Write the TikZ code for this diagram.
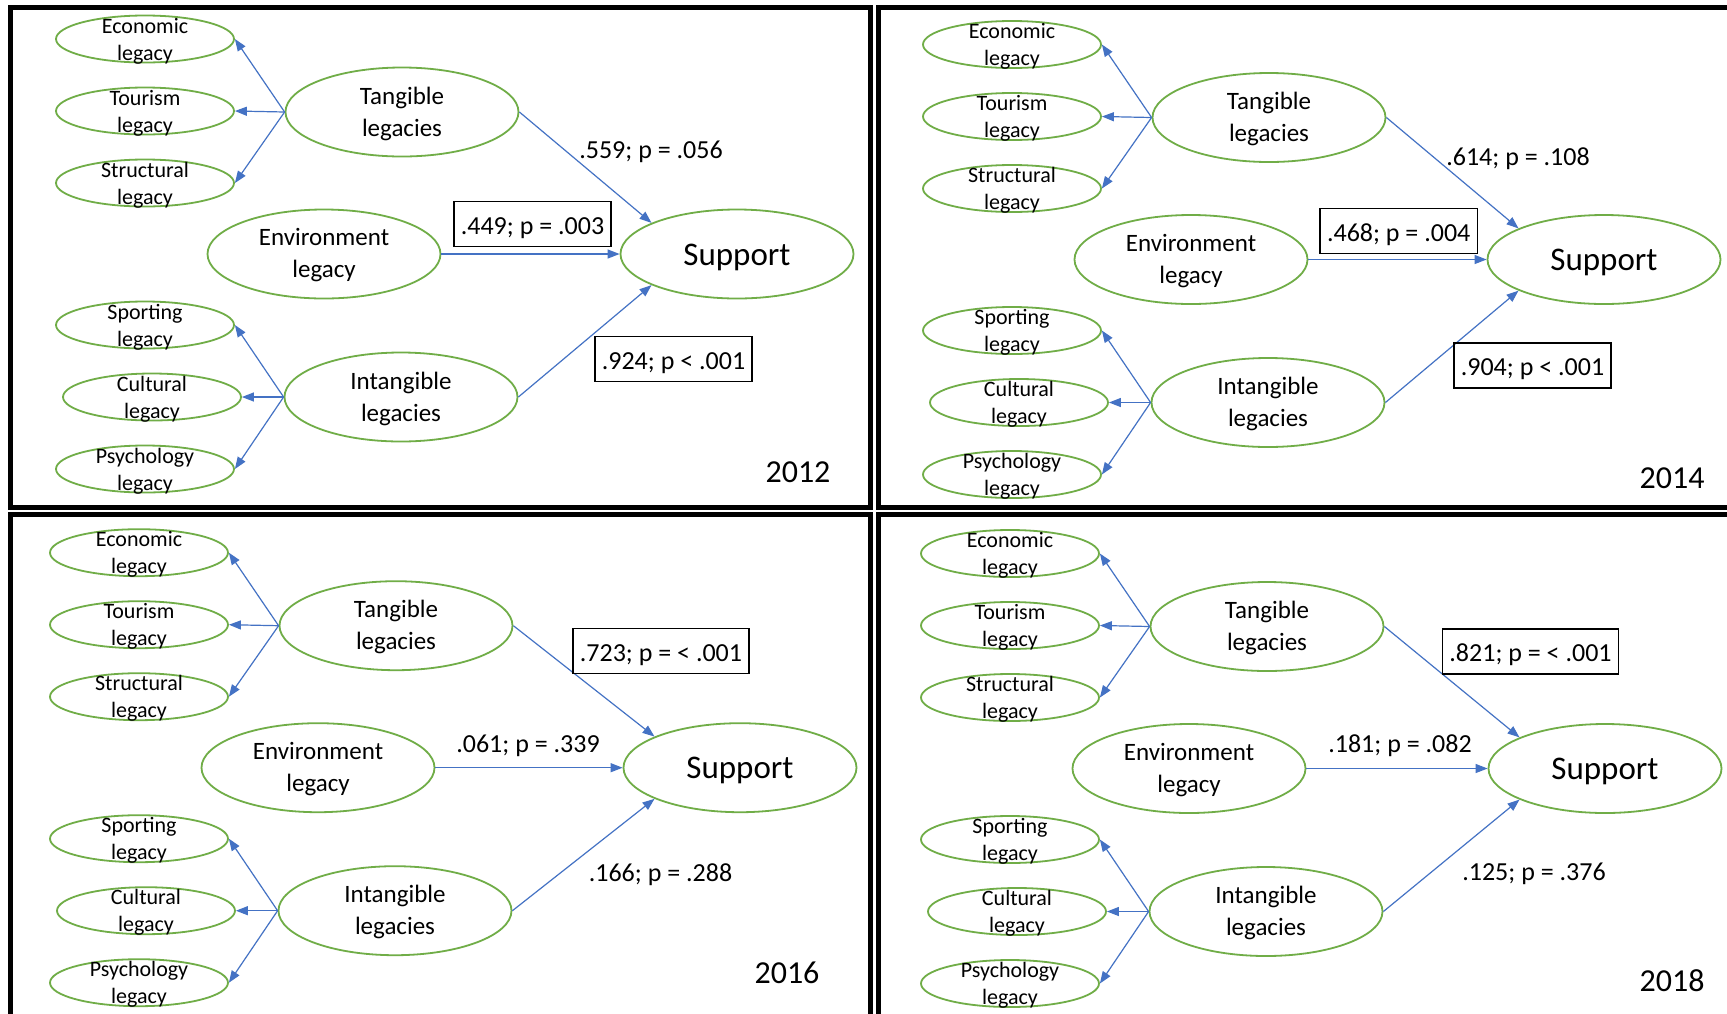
\documentclass[tikz,border=0pt]{standalone}
\usepackage{fontspec}
\setmainfont{Carlito}
\usetikzlibrary{shapes.geometric,arrows.meta}
\definecolor{ellgreen}{HTML}{70AD47}
\definecolor{arrblue}{HTML}{4472C4}
\tikzset{
 sm/.style={ellipse, draw=ellgreen, line width=1.8pt, minimum width=178pt, minimum height=47pt, inner sep=0pt},
 big/.style={ellipse, draw=ellgreen, line width=1.8pt, minimum width=233pt, minimum height=89pt, inner sep=0pt},
 smt/.style={align=center, font=\fontsize{22}{27}\selectfont, inner sep=0pt, yshift=-2pt},
 bigt/.style={align=center, font=\fontsize{25}{32}\selectfont, inner sep=0pt, yshift=-1.5pt},
 supt/.style={font=\fontsize{33}{40}\selectfont, inner sep=0pt, yshift=-3pt},
 arr/.style={draw=arrblue, line width=1.2pt, -{Triangle[length=12pt,width=9pt]}},
 lab/.style={font=\fontsize{26}{31}\selectfont, inner sep=0pt, yshift=-2.5pt},
 boxlab/.style={draw=black, line width=1.6pt, font=\fontsize{26}{31}\selectfont, inner xsep=7pt, inner ysep=0pt, minimum height=45pt, text height=22pt, text depth=2pt},
 yr/.style={font=\fontsize{32}{38}\selectfont, inner sep=0pt, yshift=-1pt},
 frame/.style={draw=black, line width=5pt},
}
\newcommand{\legpanel}[4]{%
\begin{scope}[shift={(#2,#3)}]
 \node[sm] (#1eco) at (145,39) {};
 \node[smt] (#1ecot) at (#1eco) {Economic\\legacy};
 \node[sm] (#1tou) at (145,111) {};
 \node[smt] (#1tout) at (#1tou) {Tourism\\legacy};
 \node[sm] (#1str) at (145,183) {};
 \node[smt] (#1strt) at (#1str) {Structural\\legacy};
 \node[sm] (#1spo) at (145,325) {};
 \node[smt] (#1spot) at (#1spo) {Sporting\\legacy};
 \node[sm] (#1cul) at (152,397) {};
 \node[smt] (#1cult) at (#1cul) {Cultural\\legacy};
 \node[sm] (#1psy) at (145,469) {};
 \node[smt] (#1psyt) at (#1psy) {Psychology\\legacy};
 \node[big] (#1tan) at (402,112) {};
 \node[bigt] (#1tant) at (#1tan) {Tangible\\legacies};
 \node[big] (#1env) at (324,254) {};
 \node[bigt] (#1envt) at (#1env) {Environment\\legacy};
 \node[big] (#1int) at (401,397) {};
 \node[bigt] (#1intt) at (#1int) {Intangible\\legacies};
 \node[big] (#1sup) at (737+#4,254) {};
 \node[supt] (#1supt) at (#1sup) {Support};
 \draw[arr] (#1tan.west) -- (#1eco.east);
 \draw[arr] (#1tan.west) -- (#1tou.east);
 \draw[arr] (#1tan.west) -- (#1str.east);
 \draw[arr] (#1int.west) -- (#1spo.east);
 \draw[arr] (#1int.west) -- (#1cul.east);
 \draw[arr] (#1int.west) -- (#1psy.east);
 \draw[arr] (#1tan.east) -- (#1sup.160);
 \draw[arr] (#1env.east) -- (#1sup.west);
 \draw[arr] (#1int.east) -- (#1sup.200);
\end{scope}}
\begin{document}
\begin{tikzpicture}[x=1pt,y=-1pt]
\useasboundingbox (0,0) rectangle (1727,1013);
\fill[white] (0,0) rectangle (1727,1013);
\clip (0,0) rectangle (1727,1013);
% frames
\draw[frame] (10.5,7.5) rectangle (870,507.5);
\draw[frame] (1745,7.5) -- (878.5,7.5) -- (878.5,507.5) -- (1745,507.5);
\draw[frame] (10.5,1030) -- (10.5,514.5) -- (870,514.5) -- (870,1030);
\draw[frame] (878.5,1030) -- (878.5,514.5) -- (1745,514.5);
% panels
\legpanel{pa}{0}{0}{0}
\legpanel{pb}{867}{5.5}{0}
\legpanel{pc}{-6}{513.7}{9}
\legpanel{pd}{865}{514.5}{3}
% labels 2012
\node[lab] (la1) at (651,149) {.559; p = .056};
\node[boxlab] (la2) at (532.5,224) {.449; p = .003};
\node[boxlab] (la3) at (673.5,359) {.924; p < .001};
\node[yr] (la4) at (798,471.5) {2012};
% labels 2014
\node[lab] (lb1) at (1518,156) {.614; p = .108};
\node[boxlab] (lb2) at (1398.7,231) {.468; p = .004};
\node[boxlab] (lb3) at (1532.5,365.7) {.904; p < .001};
\node[yr] (lb4) at (1672,477) {2014};
% labels 2016
\node[boxlab] (lc1) at (661,651) {.723; p = < .001};
\node[lab] (lc2) at (528,743) {.061; p = .339};
\node[lab] (lc3) at (660.5,872) {.166; p = .288};
\node[yr] (lc4) at (787,972) {2016};
% labels 2018
\node[boxlab] (ld1) at (1530.5,651.5) {.821; p = < .001};
\node[lab] (ld2) at (1400,743) {.181; p = .082};
\node[lab] (ld3) at (1534,871.5) {.125; p = .376};
\node[yr] (ld4) at (1672,979.5) {2018};
\end{tikzpicture}
\end{document}
